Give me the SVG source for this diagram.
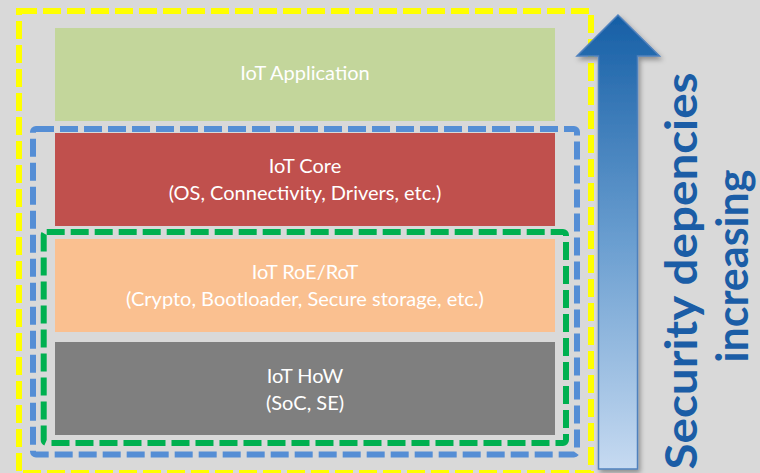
<svg xmlns="http://www.w3.org/2000/svg" width="760" height="473" viewBox="0 0 760 473">
<defs>
<linearGradient id="arrowGrad" x1="0" y1="0" x2="0" y2="1">
<stop offset="0" stop-color="#165fa6"/>
<stop offset="0.5" stop-color="#6a9ed0"/>
<stop offset="1" stop-color="#c6daf1"/>
</linearGradient>
<filter id="shadow" x="-30%" y="-10%" width="160%" height="120%">
<feDropShadow dx="2" dy="3" stdDeviation="2.5" flood-color="#000" flood-opacity="0.35"/>
</filter>
<style>
.layer{stroke:none}
.lbl{font-family:Lato,"Open Sans","Liberation Sans",sans-serif;font-size:20px;fill:#ffffff;text-anchor:middle}
.dash{fill:none;stroke-width:6;stroke-dasharray:18 6}
.side{font-family:Lato,"Open Sans","Liberation Sans",sans-serif;font-weight:bold;font-size:44px;fill:#1b5da6;text-anchor:middle}
</style>
</defs>
<rect width="760" height="473" fill="#d9d9d9"/>
<g id="app">
<rect class="layer" x="55" y="28" width="500" height="93" fill="#c3d69b"/>
<text class="lbl" x="305" y="80">IoT Application</text>
</g>
<g id="core">
<rect class="layer" x="55" y="133" width="500" height="93" fill="#c0504d"/>
<text class="lbl" x="305" y="173">IoT Core</text>
<text class="lbl" x="305" y="200">(OS, Connectivity, Drivers, etc.)</text>
</g>
<g id="roe">
<rect class="layer" x="55" y="239" width="500" height="93" fill="#fac090"/>
<text class="lbl" x="305" y="279">IoT RoE/RoT</text>
<text class="lbl" x="305" y="306">(Crypto, Bootloader, Secure storage, etc.)</text>
</g>
<g id="how">
<rect class="layer" x="55" y="342" width="500" height="93" fill="#7f7f7f"/>
<text class="lbl" x="305" y="383">IoT HoW</text>
<text class="lbl" x="305" y="410">(SoC, SE)</text>
</g>
<g id="boundaries">
<rect id="yellowBox" class="dash" x="19" y="11" width="572" height="462" stroke="#ffff00"/>
<rect id="blueBox" class="dash" x="33" y="129" width="544" height="325.5" rx="3" stroke="#558ed5"/>
<rect id="greenBox" class="dash" x="43.7" y="232" width="522.3" height="211" rx="3" stroke="#00b050"/>
</g>
<g id="connectors">
<path d="M598.5 469 L598.5 56 L577 56 L618 15 L659.5 56 L637.5 56 L637.5 469 Z" fill="url(#arrowGrad)" stroke="#4f81bd" stroke-width="1.5" filter="url(#shadow)"/>
</g>
<g id="label">
<text class="side" transform="translate(697,271) rotate(-90)" textLength="397" lengthAdjust="spacingAndGlyphs">Security depencies</text>
<text class="side" transform="translate(748,266) rotate(-90)" textLength="193" lengthAdjust="spacingAndGlyphs">increasing</text>
</g>
</svg>
